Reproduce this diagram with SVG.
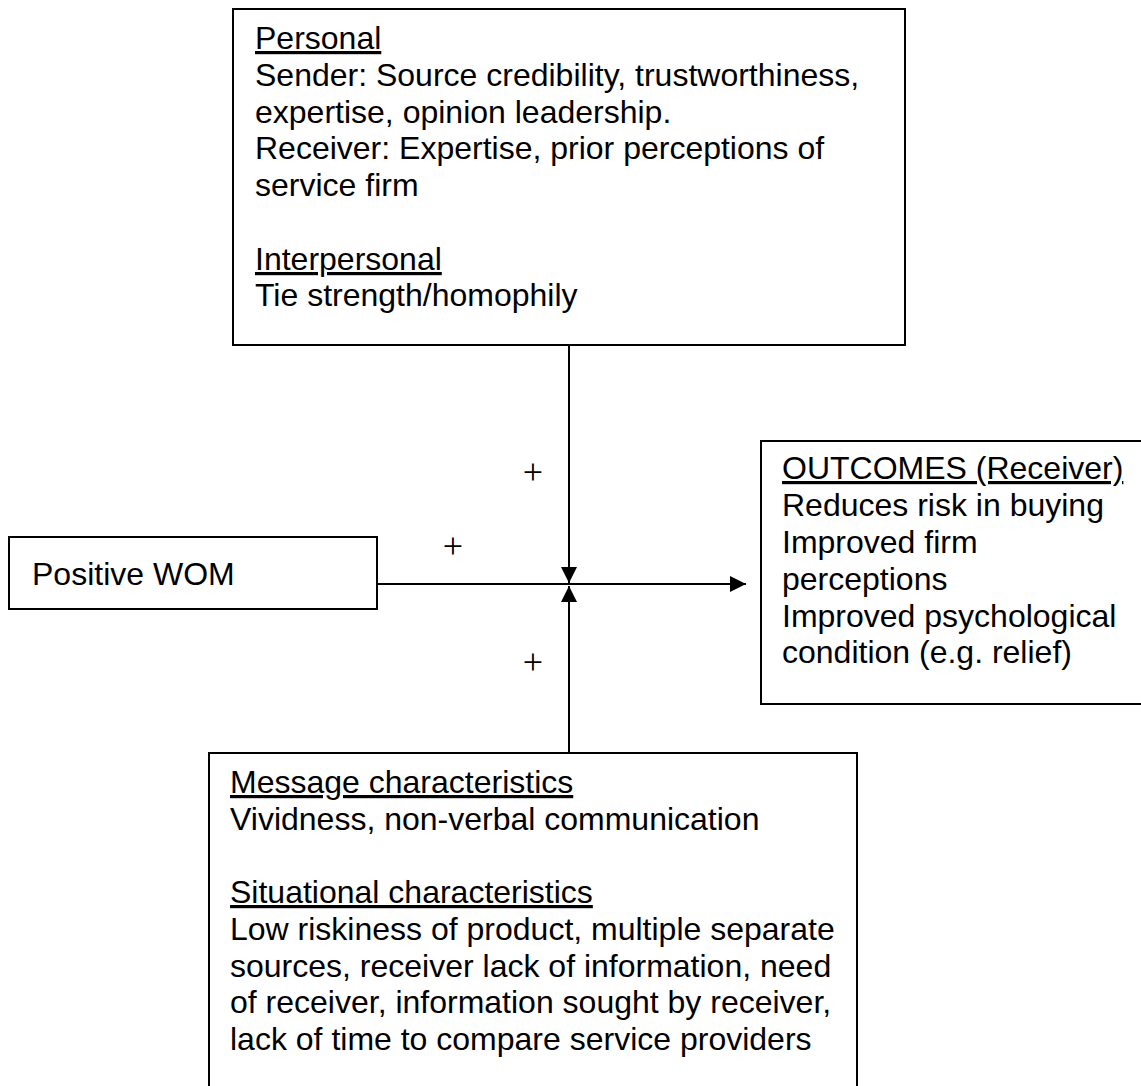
<svg xmlns="http://www.w3.org/2000/svg" width="1141" height="1086" viewBox="0 0 1141 1086">
<style>
.box{fill:#fff;stroke:#000;stroke-width:2}
.t{font-family:"Liberation Sans",Arial,sans-serif;font-size:32px;fill:#000}
.u{text-decoration:underline}
.pl{font-family:"Liberation Serif","Times New Roman",serif;font-size:36px;fill:#000;text-anchor:middle}
.ln{stroke:#000;stroke-width:2;fill:none}
</style>
<defs>
<marker id="ah" viewBox="0 0 16 16" refX="16" refY="8" markerWidth="16" markerHeight="16" markerUnits="userSpaceOnUse" orient="auto">
<path d="M0,0 L16,8 L0,16 Z" fill="#000"/>
</marker>
</defs>
<g id="connectors">
<line class="ln" x1="569" y1="345" x2="569" y2="583" marker-end="url(#ah)"/>
<line class="ln" x1="569" y1="753" x2="569" y2="586" marker-end="url(#ah)"/>
<line class="ln" x1="377" y1="584" x2="746" y2="584" marker-end="url(#ah)"/>
<text class="pl" x="533" y="484">+</text>
<text class="pl" x="453" y="558">+</text>
<text class="pl" x="533" y="674">+</text>
</g>
<g id="node-personal">
<rect class="box" x="233" y="9" width="672" height="336"/>
<text class="t" x="255" y="49"><tspan class="u">Personal</tspan></text>
<text class="t" x="255" y="86">Sender: Source credibility, trustworthiness,</text>
<text class="t" x="255" y="123">expertise, opinion leadership.</text>
<text class="t" x="255" y="159">Receiver: Expertise, prior perceptions of</text>
<text class="t" x="255" y="196">service firm</text>
<text class="t" x="255" y="270"><tspan class="u">Interpersonal</tspan></text>
<text class="t" x="255" y="306">Tie strength/homophily</text>
</g>
<g id="node-wom">
<rect class="box" x="9" y="537" width="368" height="72"/>
<text class="t" x="32" y="585">Positive WOM</text>
</g>
<g id="node-outcomes">
<rect class="box" x="761" y="441" width="390" height="263"/>
<text class="t" x="782" y="479"><tspan class="u">OUTCOMES (Receiver)</tspan></text>
<text class="t" x="782" y="516">Reduces risk in buying</text>
<text class="t" x="782" y="553">Improved firm</text>
<text class="t" x="782" y="590">perceptions</text>
<text class="t" x="782" y="627">Improved psychological</text>
<text class="t" x="782" y="663">condition (e.g. relief)</text>
</g>
<g id="node-message">
<rect class="box" x="209" y="753" width="648" height="350"/>
<text class="t" x="230" y="793"><tspan class="u">Message characteristics</tspan></text>
<text class="t" x="230" y="830">Vividness, non-verbal communication</text>
<text class="t" x="230" y="903"><tspan class="u">Situational characteristics</tspan></text>
<text class="t" x="230" y="940">Low riskiness of product, multiple separate</text>
<text class="t" x="230" y="977">sources, receiver lack of information, need</text>
<text class="t" x="230" y="1013">of receiver, information sought by receiver,</text>
<text class="t" x="230" y="1050">lack of time to compare service providers</text>
</g>
</svg>
